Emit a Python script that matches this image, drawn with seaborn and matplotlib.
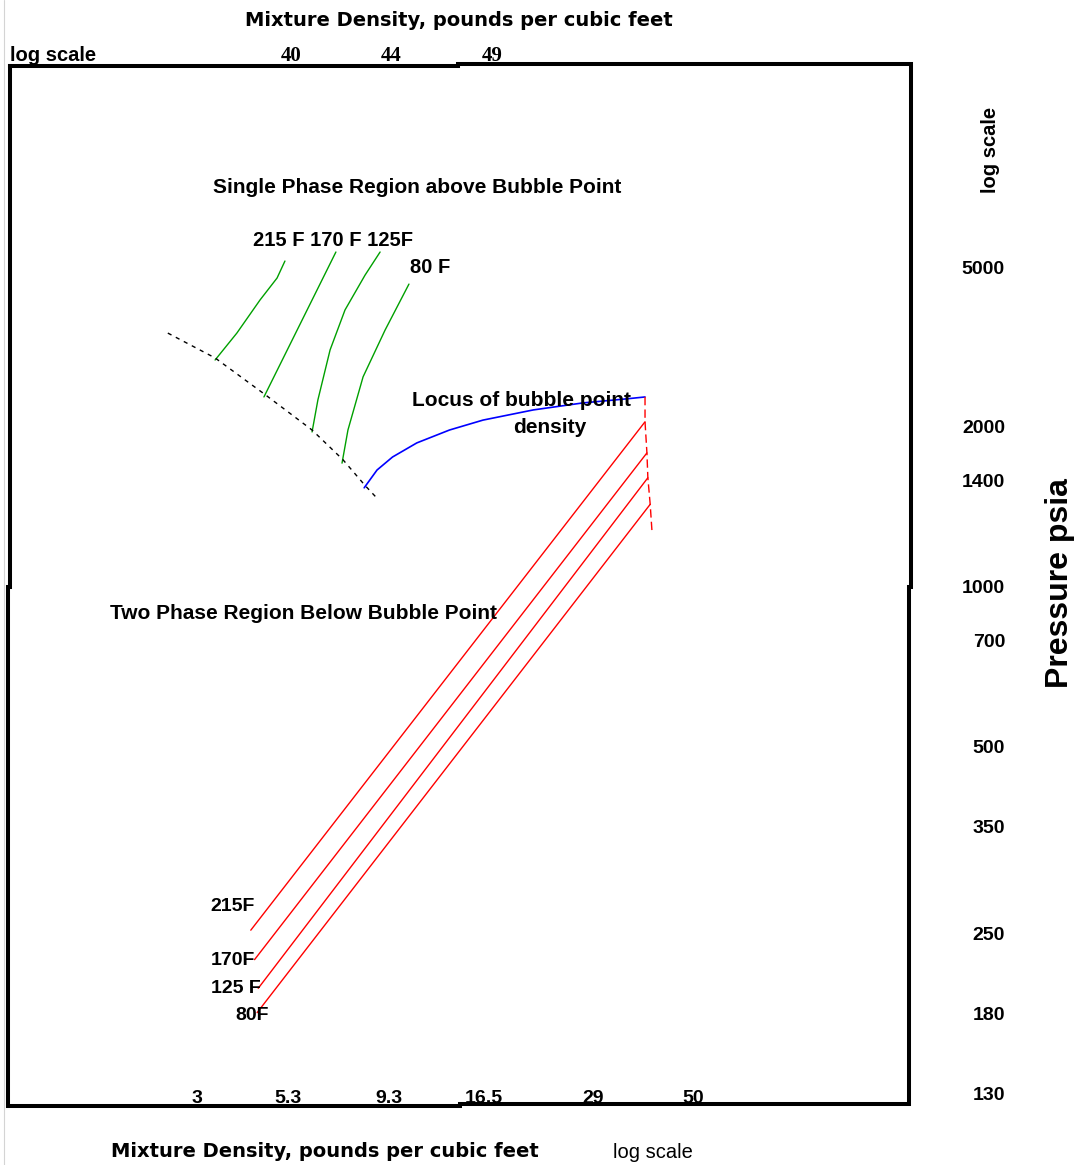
import numpy as np
import pandas as pd
import seaborn as sns
import matplotlib.pyplot as plt
from matplotlib.lines import Line2D

# ---- axis ticks (schematic, non-uniform log axes) ----
DENSITY_TICKS = [3, 5.3, 9.3, 16.5, 29, 50]
DENSITY_LABELS = ["3", "5.3", "9.3", "16.5", "29", "50"]
TOP_DENSITY_TICKS = [40, 44, 49]
TOP_DENSITY_LABELS = ["40", "44", "49"]
PRESSURE_TICKS = [130, 180, 250, 350, 500, 700, 1000, 1400, 2000, 5000]
PRESSURE_LABELS = ["130", "180", "250", "350", "500", "700", "1000", "1400", "2000", "5000"]

# where each tick sits along its axis (fraction of the frame)
DENSITY_TICK_FRAC = [0.2095, 0.3104, 0.4224, 0.5277, 0.6486, 0.7594]
TOP_DENSITY_TICK_FRAC = [0.3137, 0.4246, 0.5366]
PRESSURE_TICK_FRAC = [0.0106, 0.0876, 0.1646, 0.2676, 0.3446, 0.4466,
                      0.4986, 0.6006, 0.6526, 0.8065]

# ---- two phase region (red lines), density lb/ft3 vs pressure psia ----
TWO_PHASE_TEMPS = ["215F", "170F", "125 F", "80F"]
TWO_PHASE_START_DENSITY = [4.2, 4.3, 4.4, 4.37]
TWO_PHASE_START_PRESSURE = [253, 225, 200, 181]
TWO_PHASE_END_DENSITY = [38.5, 38.9, 39.1, 39.6]
TWO_PHASE_END_PRESSURE = [2060, 1685, 1430, 1300]

# bubble point line (red dashed)
BP_DENSITY = [38.5, 38.5, 38.9, 39.1, 39.6, 40.0]
BP_PRESSURE = [2375, 2060, 1685, 1430, 1300, 1190]

# locus of bubble point density (blue)
LOCUS_DENSITY = [8.1, 8.7, 9.5, 11.0, 13.4, 16.4, 21.3, 27.5, 34.9, 38.5]
LOCUS_PRESSURE = [1370, 1505, 1640, 1800, 1960, 2080, 2205, 2295, 2350, 2375]

# single phase boundary (black dashed)
BOUNDARY_DENSITY = [2.5, 3.36, 4.6, 6.06, 7.2, 8.14, 8.65]
BOUNDARY_PRESSURE = [3425, 2970, 2405, 1960, 1610, 1380, 1330]

# single phase isotherms (green)
G215_DENSITY = [3.36, 3.85, 4.45, 4.95, 5.2]
G215_PRESSURE = [2935, 3425, 4140, 4695, 5175]
G170_DENSITY = [4.56, 6.92]
G170_PRESSURE = [2375, 5450]
G125_DENSITY = [6.06, 6.26, 6.7, 7.28, 8.14, 8.85]
G125_PRESSURE = [1935, 2335, 3110, 3910, 4775, 5450]
G80_DENSITY = [7.16, 7.4, 8.05, 9.1, 10.49]
G80_PRESSURE = [1575, 1960, 2665, 3485, 4535]


def anchored_log(values, fracs):
    """piecewise log scale pinned to the drawn tick marks"""
    lv = np.log10(np.asarray(values, float))
    fr = np.asarray(fracs, float)
    lo = (fr[1] - fr[0]) / (lv[1] - lv[0])
    hi = (fr[-1] - fr[-2]) / (lv[-1] - lv[-2])

    def forward(v):
        x = np.log10(np.clip(np.asarray(v, float), 1e-6, None))
        out = np.interp(x, lv, fr)
        out = np.where(x < lv[0], fr[0] + (x - lv[0]) * lo, out)
        return np.where(x > lv[-1], fr[-1] + (x - lv[-1]) * hi, out)

    def inverse(f):
        f = np.asarray(f, float)
        x = np.interp(f, fr, lv)
        x = np.where(f < fr[0], lv[0] + (f - fr[0]) / lo, x)
        x = np.where(f > fr[-1], lv[-1] + (f - fr[-1]) / hi, x)
        return 10 ** x

    return forward, inverse


sns.set_theme(style="white", rc={"text.color": "black", "axes.labelcolor": "black",
                                 "xtick.color": "black", "ytick.color": "black"})
SANS = "Liberation Sans"
WIDE = "DejaVu Sans"

fig = plt.figure(figsize=(10.76, 11.65), dpi=100, facecolor="white")
ax = fig.add_axes([8 / 1076, 60 / 1165, 902 / 1076, 1039 / 1165])

x_fns = anchored_log(DENSITY_TICKS, DENSITY_TICK_FRAC)
y_fns = anchored_log(PRESSURE_TICKS, PRESSURE_TICK_FRAC)
ax.set_xscale("function", functions=x_fns)
ax.set_yscale("function", functions=y_fns)

# single phase isotherms
single = pd.concat([
    pd.DataFrame({"temp": t, "density": d, "pressure": p})
    for t, d, p in [("215", G215_DENSITY, G215_PRESSURE),
                    ("170", G170_DENSITY, G170_PRESSURE),
                    ("125", G125_DENSITY, G125_PRESSURE),
                    ("80", G80_DENSITY, G80_PRESSURE)]
])
sns.lineplot(data=single, x="density", y="pressure", units="temp", estimator=None,
             sort=False, color="#00a000", lw=1.0, ax=ax)

# boundary of single phase region
sns.lineplot(x=BOUNDARY_DENSITY, y=BOUNDARY_PRESSURE, sort=False, estimator=None,
             color="black", lw=1.0, linestyle=(0, (3, 3.5)), ax=ax)

# locus of bubble point density
sns.lineplot(x=LOCUS_DENSITY, y=LOCUS_PRESSURE, sort=False, estimator=None,
             color="#0000ff", lw=1.2, ax=ax)

# two phase lines
two = pd.DataFrame({
    "temp": TWO_PHASE_TEMPS * 2,
    "density": TWO_PHASE_START_DENSITY + TWO_PHASE_END_DENSITY,
    "pressure": TWO_PHASE_START_PRESSURE + TWO_PHASE_END_PRESSURE,
})
sns.lineplot(data=two, x="density", y="pressure", units="temp", estimator=None,
             sort=False, color="#ff0000", lw=1.0, ax=ax)
sns.lineplot(x=BP_DENSITY, y=BP_PRESSURE, sort=False, estimator=None,
             color="#ff0000", lw=1.0, linestyle=(0, (6, 3)), ax=ax)

ax.set_xlim(x_fns[1](0), x_fns[1](1))
ax.set_ylim(y_fns[1](0), y_fns[1](1))
ax.minorticks_off()
for s in ax.spines.values():
    s.set_visible(False)

# bottom ticks sit inside the frame
ax.set_xticks(DENSITY_TICKS, labels=DENSITY_LABELS, fontfamily=SANS,
              fontweight="bold", fontsize=14, va="baseline", color="black")
ax.tick_params(axis="x", length=0, pad=-1.4)

# pressure ticks on the right, right aligned
ax.yaxis.tick_right()
ax.set_yticks(PRESSURE_TICKS, labels=PRESSURE_LABELS, fontfamily=SANS,
              fontweight="bold", fontsize=14, ha="right", color="black")
ax.tick_params(axis="y", length=0, pad=68.4)

ax.set_xlabel("Mixture Density, pounds per cubic feet", fontfamily=WIDE,
              fontweight="bold", fontsize=14, color="black")
ax.xaxis.set_label_coords(0.3514, -0.0500)
ax.xaxis.label.set_va("baseline")

ax.set_ylabel("Pressure psia", fontfamily=SANS, fontweight="bold", fontsize=23,
              color="black")
ax.yaxis.set_label_position("right")
ax.yaxis.set_label_coords(1.1663, 0.502)
ax.yaxis.label.set_va("center")
ax.yaxis.label.set_ha("center")

# top density scale
ax_top = ax.twiny()
top_fns = anchored_log(TOP_DENSITY_TICKS, TOP_DENSITY_TICK_FRAC)
ax_top.set_xscale("function", functions=top_fns)
ax_top.set_xlim(top_fns[1](0), top_fns[1](1))
ax_top.minorticks_off()
ax_top.set_xticks(TOP_DENSITY_TICKS, labels=TOP_DENSITY_LABELS,
                  fontfamily="Liberation Serif", fontweight="bold", fontsize=15,
                  va="baseline", color="black")
ax_top.tick_params(axis="x", length=0, pad=3.6)
ax_top.set_xlabel("Mixture Density, pounds per cubic feet", fontfamily=WIDE,
                  fontweight="bold", fontsize=14, color="black")
ax_top.xaxis.set_label_coords(0.5, 1.0385)
ax_top.xaxis.label.set_va("baseline")
for s in ax_top.spines.values():
    s.set_visible(False)

# hand drawn looking frame with small jogs
frame_x = [0.0017, 0.4989, 0.4989, 1.0011, 1.0011, 0.9994, 0.9994, 0.5011,
           0.5011, 0.0, 0.0, 0.0017, 0.0017]
frame_y = [1.0, 1.0, 1.0019, 1.0019, 0.4986, 0.4986, 0.001, 0.001,
           -0.001, -0.001, 0.4986, 0.4986, 1.0]
ax.plot(frame_x, frame_y, transform=ax.transAxes, clip_on=False, color="black",
        lw=2.9, solid_joinstyle="miter", solid_capstyle="projecting", zorder=5)

# annotations
bold = dict(transform=ax.transAxes, fontfamily=SANS, fontweight="bold",
            va="center", color="black")
ax.text(0.4534, 0.8835, "Single Phase Region above Bubble Point", ha="center",
        fontsize=15, **bold)
ax.text(0.2716, 0.8325, "215 F 170 F 125F", ha="left", fontsize=14.5, **bold)
ax.text(0.4457, 0.8065, "80 F", ha="left", fontsize=14.5, **bold)
ax.text(0.4479, 0.6776, "Locus of bubble point", ha="left", fontsize=15, **bold)
ax.text(0.5599, 0.6516, "density", ha="left", fontsize=15, **bold)
ax.text(0.1131, 0.4726, "Two Phase Region Below Bubble Point", ha="left",
        fontsize=15, **bold)
ax.text(0.2239, 0.1906, "215F", ha="left", fontsize=14, **bold)
ax.text(0.2251, 0.1386, "170F", ha="left", fontsize=14, **bold)
ax.text(0.2251, 0.1126, "125 F", ha="left", fontsize=14, **bold)
ax.text(0.2517, 0.0866, "80F", ha="left", fontsize=14, **bold)

fig.text(10 / 1076, 1 - 61 / 1165, "log scale", ha="left", va="baseline",
         fontfamily=SANS, fontweight="bold", fontsize=14.5, color="black")
fig.text(990 / 1076, 1 - 150 / 1165, "log scale", ha="center", va="center",
         rotation=90, fontfamily=SANS, fontweight="bold", fontsize=14.5,
         color="black")
fig.text(613 / 1076, 1 - 1158 / 1165, "log scale", ha="left", va="baseline",
         fontfamily=SANS, fontsize=14.5, color="black")

# faint page edge seen on the left of the original
fig.add_artist(Line2D([3.5 / 1076] * 2, [0, 1], transform=fig.transFigure,
                      color="#d4d4d4", lw=0.8))

fig.savefig("out.png", dpi=100, facecolor="white")
